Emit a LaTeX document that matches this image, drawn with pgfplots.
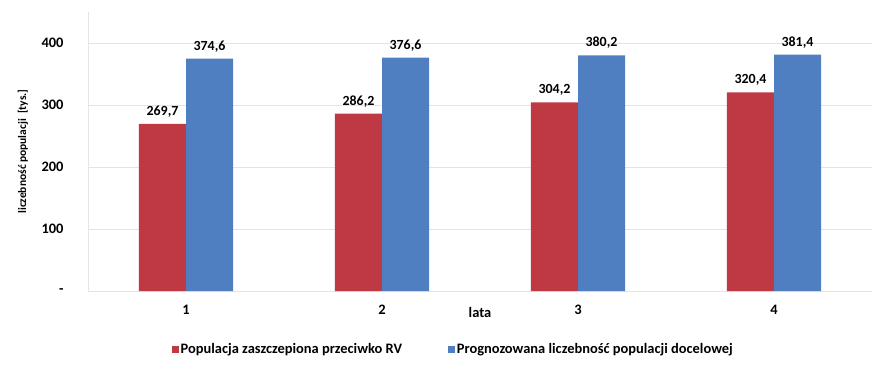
\documentclass[border=0pt]{standalone}
\usepackage{pgfplots}
\pgfplotsset{compat=1.18}
\usepackage{fontspec}
\setmainfont{Carlito}
\definecolor{cred}{RGB}{190,57,68}
\definecolor{cblue}{RGB}{79,127,192}
\definecolor{cgrid}{RGB}{228,228,228}
\begin{document}
\begin{tikzpicture}
\useasboundingbox (-88bp,-78bp) rectangle (802bp,291bp);
\begin{axis}[
  at={(0,0)}, anchor=south west,
  scale only axis, width=784bp, height=279bp,
  xmin=0.5, xmax=4.5, ymin=0, ymax=450,
  xtick={1,2,3,4}, xticklabels={1,2,3,4},
  ytick={0,100,200,300,400}, yticklabels={-,100,200,300,400},
  major tick length=0pt,
  ymajorgrids, grid style={cgrid, line width=0.8pt},
  axis x line*=bottom, axis y line*=left,
  axis line style={cgrid, line width=0.8pt},
  separate axis lines,
  tick label style={font=\fontsize{14.5}{16}\selectfont\bfseries, text=black},
  yticklabel style={xshift=-21bp},
  xticklabel style={yshift=-11bp},
  ylabel={liczebność populacji\ \ [tys.]},
  ylabel style={font=\fontsize{11.5}{13}\selectfont\bfseries, at={(axis description cs:0,0.5)}, anchor=center, yshift=65bp},
  xlabel={lata},
  xlabel style={font=\fontsize{14.5}{16}\selectfont\bfseries, at={(axis description cs:0.5,0)}, anchor=center, yshift=-21bp},
  bar width=0.24,
  ybar=0pt,
  nodes near coords,
  every node near coord/.append style={font=\fontsize{14}{16}\selectfont\bfseries, text=black, yshift=3bp},
  /pgf/number format/.cd, use comma, fixed, fixed zerofill, precision=1, assume math mode=true,
  /pgfplots/.cd,
  legend style={at={(0.466,-0.21)}, anchor=center, draw=none, fill=none,
    font=\fontsize{14.5}{16}\selectfont\bfseries, legend columns=2,
    /tikz/every even column/.append style={column sep=44bp}},
  legend image code/.code={\fill[#1] (0cm,-0.11cm) rectangle (0.24cm,0.13cm);},
  clip=false,
]
\addplot[fill=cred, draw=none, bar shift=-0.12] coordinates {(1,269.7) (2,286.2) (3,304.2) (4,320.4)};
\addplot[fill=cblue, draw=none, bar shift=0.12] coordinates {(1,374.6) (2,376.6) (3,380.2) (4,381.4)};
\legend{Populacja zaszczepiona przeciwko RV, Prognozowana liczebność populacji docelowej}
\end{axis}
\end{tikzpicture}
\end{document}
